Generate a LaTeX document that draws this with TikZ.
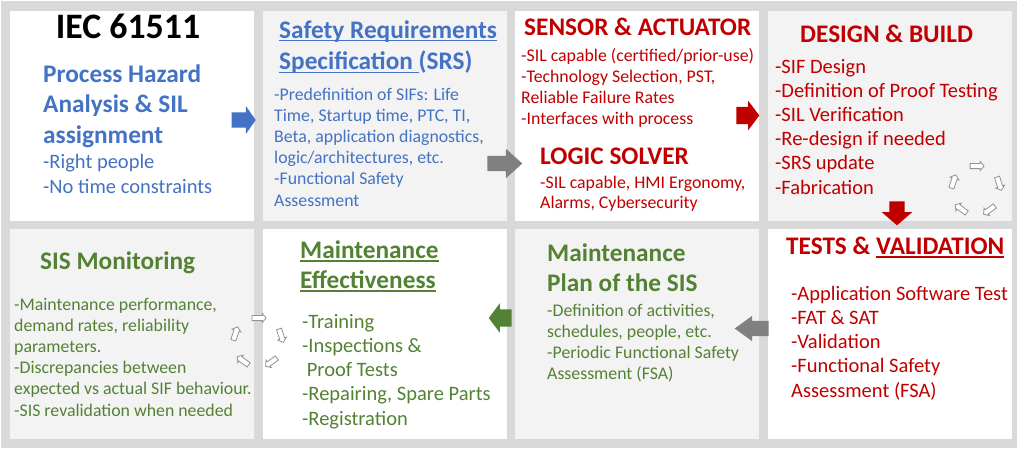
\documentclass[tikz,border=0pt]{standalone}
\usepackage{fontspec}
\setmainfont{Carlito}
\usetikzlibrary{shapes.arrows}
\usetikzlibrary{calc}
\definecolor{sisblue}{HTML}{4472C4}
\definecolor{sisred}{HTML}{C00000}
\definecolor{sisgreen}{HTML}{548235}
\definecolor{frame}{HTML}{D9D9D9}
\definecolor{light}{HTML}{F3F3F3}
\newcommand\undl[1]{\setbox0\hbox{#1}\rlap{\rule[-3.5pt]{\wd0}{1.2pt}}\box0}
\tikzset{%
  panel/.style={anchor=north west,inner sep=0pt,minimum width=244pt,minimum height=210pt},
  head/.style={anchor=base west,inner sep=0pt,font=\bfseries\fontsize{25.3}{30}\selectfont},
  txt/.style={anchor=base west,inner sep=0pt,font=\fontsize{17.8}{21}\selectfont},
  big/.style={anchor=base west,inner sep=0pt,font=\fontsize{20.5}{24}\selectfont},
  blk/.style={single arrow,inner xsep=0pt,draw=none},
  cyc/.style={single arrow,draw=gray!85,fill=white,line width=.8pt,inner xsep=0pt,inner ysep=2.2pt,
              minimum height=14pt,single arrow head extend=2pt,single arrow tip angle=100},
}
\begin{document}
\begin{tikzpicture}[x=1pt,y=-1pt]
              \useasboundingbox (0,0) rectangle (1024,452);
              \fill[frame] (1,1) rectangle (1017,448);
              % panels
              \node[panel,fill=white] (hazard) at (10,11) {};
              \node[panel,fill=light] (srs) at (263,11) {};
              \node[panel,fill=white] (sensor) at (515,11) {};
              \node[panel,fill=light] (design) at (768,11) {};
              \node[panel,fill=light] (monitor) at (10,229) {};
              \node[panel,fill=white] (effect) at (263,229) {};
              \node[panel,fill=light] (plan) at (515,229) {};
              \node[panel,fill=white] (tests) at (768,229) {};
              % hazard analysis
              \node[anchor=base,inner sep=0pt,font=\bfseries\fontsize{35.8}{42}\selectfont] (iec) at (128,38) {IEC 61511};
              \foreach \t [count=\i from 0] in {Process Hazard,Analysis \& SIL,assignment}
                \node[head,text=sisblue] (pha-\i) at (43,82+30.5*\i) {\t};
              \foreach \t [count=\i from 0] in {-Right people,-No time constraints}
                \node[big,text=sisblue] (phal-\i) at (43,168+25*\i) {\t};
              % srs
              \node[head,text=sisblue] (srs-a) at (279,38) {\undl{Safety Requirements}};
              \node[head,text=sisblue] (srs-b) at (279,70) {\undl{Specification\ }(SRS)};
              \foreach \t [count=\i from 0] in {{-Predefinition of SIFs: Life},{Time, Startup time, PTC, TI,},
                  {Beta, application diagnostics,},{logic/architectures, etc.},-Functional Safety,Assessment}
                \node[txt,text=sisblue] (srsl-\i) at (274,100+21.2*\i) {\t};
              % sensor and logic solver
              \node[head,text=sisred] (sa) at (524,36) {SENSOR \& ACTUATOR};
              \foreach \t [count=\i from 0] in {-SIL capable (certified/prior-use),{-Technology Selection, PST,},
                  Reliable Failure Rates,-Interfaces with process}
                \node[txt,text=sisred] (sal-\i) at (521,61+21*\i) {\t};
              \node[head,text=sisred] (ls) at (540,164) {LOGIC SOLVER};
              \foreach \t [count=\i from 0] in {{-SIL capable, HMI Ergonomy,},{Alarms, Cybersecurity}}
                \node[txt,text=sisred] (lsl-\i) at (540,188+20.5*\i) {\t};
              % design
              \node[head,text=sisred] (db) at (800,43) {DESIGN \& BUILD};
              \foreach \t [count=\i from 0] in {-SIF Design,-Definition of Proof Testing,-SIL Verification,
                  -Re-design if needed,-SRS update,-Fabrication}
                \node[big,text=sisred] (dbl-\i) at (775,73+24.2*\i) {\t};
              % tests
              \node[head,text=sisred] (tv) at (786,254) {TESTS \& \undl{VALIDATION}};
              \foreach \t [count=\i from 0] in {-Application Software Test,-FAT \& SAT,-Validation,
                  -Functional Safety,Assessment (FSA)}
                \node[big,text=sisred] (tvl-\i) at (791,300+24.3*\i) {\t};
              % maintenance plan
              \foreach \t [count=\i from 0] in {Maintenance,Plan of the SIS}
                \node[head,text=sisgreen] (mp-\i) at (547,261+30*\i) {\t};
              \foreach \t [count=\i from 0] in {{-Definition of activities,},{schedules, people, etc.},
                  -Periodic Functional Safety,Assessment (FSA)}
                \node[txt,text=sisgreen] (mpl-\i) at (547,316+21*\i) {\t};
              % effectiveness
              \foreach \t [count=\i from 0] in {Maintenance,Effectiveness}
                \node[head,text=sisgreen] (me-\i) at (300,258+30*\i) {\undl{\t}};
              \foreach \t [count=\i from 0] in {-Training,-Inspections \&,\ Proof Tests,
                  {-Repairing, Spare Parts},-Registration}
                \node[big,text=sisgreen] (mel-\i) at (302,328+24.3*\i) {\t};
              % monitoring
              \node[head,text=sisgreen] (sm) at (40,269) {SIS Monitoring};
              \foreach \t [count=\i from 0] in {{-Maintenance performance,},{demand rates, reliability},
                  parameters.,-Discrepancies between,expected vs actual SIF behaviour.,-SIS revalidation when needed}
                \node[txt,text=sisgreen] (sml-\i) at (14,310+21.2*\i) {\t};
              % block arrows
              \node[blk,fill=sisblue,minimum height=24pt,inner ysep=7.5pt,single arrow head extend=6.5pt,
                    single arrow tip angle=110] (a1) at (241,120) {};
              \node[blk,fill=gray,minimum height=35pt,inner ysep=7.5pt,single arrow head extend=7pt,
                    single arrow tip angle=84] (a2) at (500.5,163.5) {};
              \node[blk,fill=sisred,minimum height=23pt,inner ysep=8.5pt,single arrow head extend=6pt,
                    single arrow tip angle=106] (a3) at (744.5,115.5) {};
              \node[blk,fill=sisred,minimum height=24pt,inner ysep=7.5pt,single arrow head extend=7.5pt,
                    single arrow tip angle=98,rotate=-90] (a4) at (897,210) {};
              \node[blk,fill=gray,minimum height=34pt,inner ysep=7.5pt,single arrow head extend=5pt,
                    single arrow tip angle=72,rotate=180] (a5) at (757,328.5) {};
              \node[blk,fill=sisgreen,minimum height=23pt,inner ysep=8.5pt,single arrow head extend=6pt,
                    single arrow tip angle=106,rotate=180] (a6) at (503.5,318) {};
              % cycles
              \foreach \cx/\cy/\n in {976/190/up,258/342/lo}
                \foreach \a [count=\k] in {90,18,-54,-126,162}
                  \node[cyc,rotate=\a-90] (cy-\n-\k) at ($(\cx,\cy)+(\a:24pt)$) {};
\end{tikzpicture}
\end{document}
